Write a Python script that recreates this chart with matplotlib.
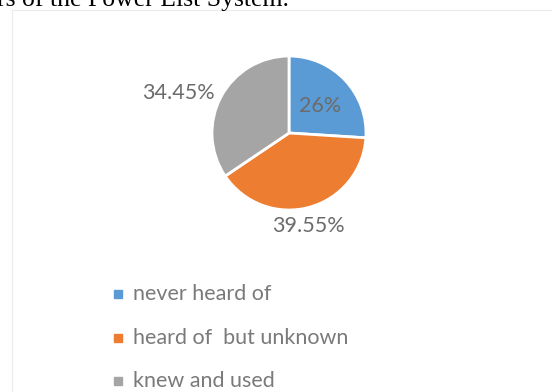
import matplotlib.pyplot as plt
import numpy as np

# parts de la population
LABELS = ["never heard of", "heard of  but unknown", "knew and used"]
VALUES = [26, 39.55, 34.45]
PCT_TXT = ["26%", "39.55%", "34.45%"]
COLORS = ["#5b9bd5", "#ed7d31", "#a5a5a5"]

W, H = 552, 392
fig = plt.figure(figsize=(W / 100, H / 100), dpi=100)
plt.rcParams['font.family'] = ['Lato', 'DejaVu Sans']

# bordure de la zone graphique
fig.patches.append(plt.Rectangle((12 / W, -0.01), 1.0, (H - 10) / H + 0.01,
                                 transform=fig.transFigure, fill=False,
                                 edgecolor="#ebebeb", lw=0.8))

# texte coupé au dessus (légende du document)
fig.text(-3 / W, 1 - 6 / H, "rs of the Power List System.", family="Liberation Serif",
         fontsize=18.5, color="black", va="baseline", ha="left")

cx, cy, r = 289, 133, 77
ax = fig.add_axes([(cx - r) / W, (H - cy - r) / H, 2 * r / W, 2 * r / H])
wedges, _ = ax.pie(VALUES, colors=COLORS, startangle=90, counterclock=False,
                   radius=1, wedgeprops=dict(edgecolor="white", linewidth=2))
ax.set_xlim(-1, 1)
ax.set_ylim(-1, 1)
ax.set_aspect("equal")
ax.axis("off")

dist = [0.556, 1.23, 1.53]
nudge = [(0, -2), (-5, -2), (-7, -15)]  # décalage en pixels (x, y vers le haut)
for w, t, d, (nx, ny) in zip(wedges, PCT_TXT, dist, nudge):
    ang = np.deg2rad((w.theta1 + w.theta2) / 2)
    ax.annotate(t, (d * np.cos(ang), d * np.sin(ang)), xytext=(nx * 0.72, ny * 0.72),
                textcoords="offset points", ha="center", va="center",
                fontsize=15.5, color="#6b6b6b", annotation_clip=False)

# légende manuelle
rows = [294, 338, 381]
for lab, col, y in zip(LABELS, COLORS, rows):
    fig.patches.append(plt.Rectangle((114 / W, 1 - (y + 4) / H), 8 / W, 8 / H,
                                     transform=fig.transFigure, color=col))
    fig.text(133 / W, 1 - y / H, lab, fontsize=15.5, color="#7a7a7a",
             va="center", ha="left")

plt.savefig("out.png", dpi=100)
